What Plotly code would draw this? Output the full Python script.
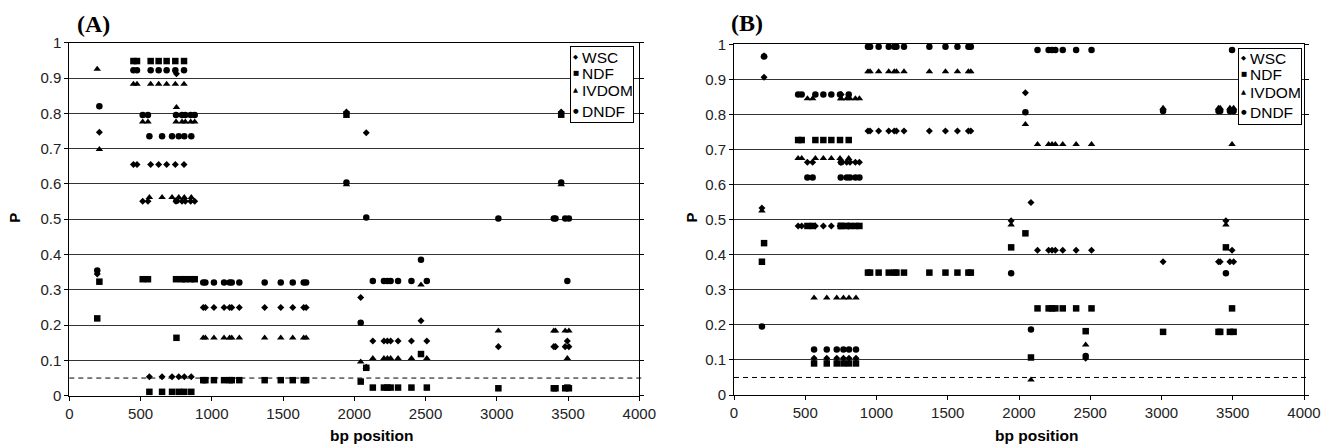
import plotly.graph_objects as go

W, H = 1335, 445

# SNP positions along the gene (bp), grouped by shared association pattern
pos_g196 = [196]
pos_g211 = [211]
pos_s1 = [450, 475, 571, 627, 683, 744, 805]
pos_s2 = [562, 651, 721, 768, 807, 856]
pos_s3 = [515, 552, 749, 791, 814, 852, 880]
pos_x752 = [752]
pos_g4 = [940, 955, 1015, 1086, 1125, 1140, 1193, 1371, 1484, 1568, 1645, 1662]
pos_g5 = [1945, 3452]
pos_g6 = [2045]
pos_g7 = [2084]
pos_g8 = [2130, 2208, 2232, 2255, 2307, 2401, 2509, 3495]
pos_g9 = [2468]
pos_g10 = [3011, 3400, 3412, 3480, 3506]
groups = [pos_g196, pos_g211, pos_s1, pos_s2, pos_s3, pos_x752, pos_g4,
          pos_g5, pos_g6, pos_g7, pos_g8, pos_g9, pos_g10]

traits = ["WSC", "NDF", "IVDOM", "DNDF"]

# P values per SNP group (same order as `groups`) -- panel A
a_wsc = [0.345, 0.746, 0.655, 0.054, 0.551, 0.912, 0.250, 0.804, 0.278, 0.745, 0.155, 0.212, 0.139]
a_ndf = [0.219, 0.323, 0.948, 0.011, 0.330, 0.164, 0.044, 0.796, 0.040, 0.079, 0.023, 0.118, 0.021]
a_ivdom = [0.925, 0.698, 0.883, 0.562, 0.776, 0.817, 0.164, 0.598, 0.096, 0.082, 0.106, 0.314, 0.184]
a_dndf = [0.355, 0.820, 0.922, 0.735, 0.795, 0.552, 0.321, 0.604, 0.207, 0.505, 0.325, 0.385, 0.502]

# P values per SNP group -- panel B
b_wsc = [0.533, 0.906, 0.482, 0.105, 0.664, 0.857, 0.753, 0.497, 0.862, 0.549, 0.413, 0.105, 0.380]
b_ndf = [0.380, 0.433, 0.727, 0.090, 0.482, 0.482, 0.349, 0.421, 0.461, 0.107, 0.247, 0.182, 0.180]
b_ivdom = [0.525, 0.968, 0.675, 0.277, 0.845, 0.845, 0.922, 0.485, 0.772, 0.043, 0.715, 0.143, 0.818]
b_dndf = [0.195, 0.965, 0.857, 0.130, 0.620, 0.664, 0.993, 0.347, 0.806, 0.187, 0.984, 0.111, 0.810]

threshold = 0.05
y_ticks = [0, 0.1, 0.2, 0.3, 0.4, 0.5, 0.6, 0.7, 0.8, 0.9, 1]
y_ticktext = ["0", "0.1", "0.2", "0.3", "0.4", "0.5", "0.6", "0.7", "0.8", "0.9", "1"]
x_ticks = [0, 500, 1000, 1500, 2000, 2500, 3000, 3500, 4000]

SYMBOL = {"WSC": "diamond", "NDF": "square", "IVDOM": "triangle-up", "DNDF": "circle"}
SIZE = {"WSC": 5.4, "NDF": 6.5, "IVDOM": 6.6, "DNDF": 6.5}
GLYPH = {"WSC": "\u25c6", "NDF": "\u25a0", "IVDOM": "\u25b2", "DNDF": "\u25cf"}

SANS = "Liberation Sans, Arial, sans-serif"
SERIF = "Liberation Serif, Times New Roman, serif"


def expand(values):
    xs, ys = [], []
    for grp, v in zip(groups, values):
        for p in grp:
            xs.append(p)
            ys.append(v)
    return xs, ys


panels = [
    ("x", "y", {"WSC": a_wsc, "NDF": a_ndf, "IVDOM": a_ivdom, "DNDF": a_dndf}),
    ("x2", "y2", {"WSC": b_wsc, "NDF": b_ndf, "IVDOM": b_ivdom, "DNDF": b_dndf}),
]

fig = go.Figure()
for xa, ya, series in panels:
    for t in traits:
        xs, ys = expand(series[t])
        fig.add_trace(go.Scatter(
            x=xs, y=ys, mode="markers", name=t, xaxis=xa, yaxis=ya,
            showlegend=False, cliponaxis=False,
            marker=dict(symbol=SYMBOL[t], size=SIZE[t], color="black",
                        line=dict(width=0)),
        ))

# plot-area geometry (pixels)
A_BOX = (69.3, 639.3, 42.7, 395.7)
B_BOX = (734.0, 1304.0, 44.3, 395.0)


def xdom(b):
    return [b[0] / W, b[1] / W]


def ydom(b):
    return [1 - b[3] / H, 1 - b[2] / H]


tickfont = dict(family=SANS, size=15, color="#222")
common_x = dict(range=[0, 4000], tickvals=x_ticks, ticks="outside", ticklen=4,
                tickcolor="black", showline=True, linecolor="black", linewidth=1,
                mirror=True, showgrid=False, zeroline=False, tickfont=tickfont,
                automargin=False)
common_y = dict(range=[0, 1], tickvals=y_ticks, ticktext=y_ticktext,
                ticks="outside", ticklen=4, tickcolor="black", showline=True,
                linecolor="black", linewidth=1, mirror="ticks", showgrid=True,
                gridcolor="#333333", gridwidth=1, zeroline=False, tickfont=tickfont,
                automargin=False)

fig.update_layout(
    template="none",
    width=W, height=H, margin=dict(l=0, r=0, t=0, b=0, pad=0),
    paper_bgcolor="white", plot_bgcolor="white",
    xaxis=dict(domain=xdom(A_BOX), anchor="y", **common_x),
    yaxis=dict(domain=ydom(A_BOX), anchor="x", **common_y),
    xaxis2=dict(domain=xdom(B_BOX), anchor="y2", **common_x),
    yaxis2=dict(domain=ydom(B_BOX), anchor="x2", **common_y),
)

# P = 0.05 significance threshold
for xr, yr in (("x domain", "y"), ("x2 domain", "y2")):
    fig.add_shape(type="line", xref=xr, yref=yr, x0=0, x1=1.008,
                  y0=threshold, y1=threshold,
                  line=dict(color="black", width=1, dash="5px,4px"))

annotations = []


def px_note(x, y, text, **kw):
    d = dict(x=x / W, y=1 - y / H, xref="paper", yref="paper", text=text,
             showarrow=False, xanchor="center", yanchor="middle")
    d.update(kw)
    annotations.append(d)


for label, lx, ly, px_, tx in (("(A)", 94, 24, 13.8, 371.5),
                               ("(B)", 747, 23.5, 690.5, 1036.5)):
    px_note(lx, ly, "<b>" + label + "</b>",
            font=dict(family=SERIF, size=24, color="black"))
    px_note(px_, 218, "<b>P</b>", textangle=-90,
            font=dict(family=SANS, size=15, color="black"))
    px_note(tx, 435, "<b>bp position</b>",
            font=dict(family=SANS, size=15.5, color="black"))

# legend boxes
legend_rows = [("WSC", 9.8), ("NDF", 26.0), ("IVDOM", 43.5), ("DNDF", 64.0)]
for bx, by in ((570, 46.7), (1238, 48.2)):
    px_note(bx + 32, by + 38.2, "", width=62, height=74.5,
            bgcolor="white", bordercolor="black", borderwidth=1, borderpad=0)
    for t, dy in legend_rows:
        px_note(bx + 5.5, by + dy, GLYPH[t], borderpad=0,
                font=dict(family="DejaVu Sans", size=6.5, color="black"))
        px_note(bx + 10.5, by + dy, t, xanchor="left", borderpad=0, height=14,
                font=dict(family=SANS, size=15.5, color="black"))

fig.update_layout(annotations=annotations)

fig.write_html("out.html")
